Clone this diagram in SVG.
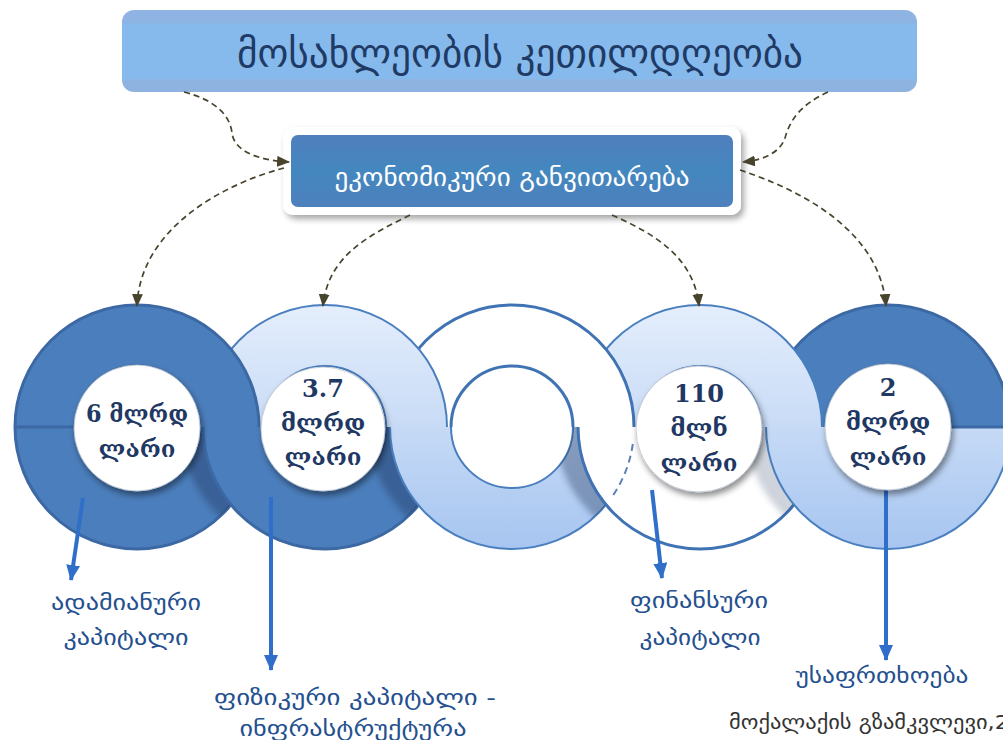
<svg xmlns="http://www.w3.org/2000/svg" width="1003" height="740" viewBox="0 0 1003 740">
<defs>
<style>
.ttl{font-family:"DejaVu Sans",sans-serif;font-size:40px;fill:#1f3a64;text-anchor:middle}
.eco{font-family:"DejaVu Sans",sans-serif;font-size:26px;fill:#fff;text-anchor:middle}
.num{font-family:"DejaVu Serif","DejaVu Sans",serif;font-weight:bold;font-size:24px;fill:#1f3864;text-anchor:middle}
.lbl{font-family:"DejaVu Sans",sans-serif;font-size:22px;fill:#24508f;text-anchor:middle}
.src{font-family:"DejaVu Sans",sans-serif;font-size:20px;fill:#333}
.dash{fill:none;stroke:#47432c;stroke-width:1.7;stroke-dasharray:6 4;marker-end:url(#ah)}
.blue{fill:none;stroke:#2f6fca;stroke-width:4;marker-end:url(#bh)}
.dk{fill:#4b7ebc}
.dks{fill:none;stroke:#3c68a3;stroke-width:3}
.ltT{fill:url(#gT)}
.ltB{fill:url(#gB)}
.lts{fill:none;stroke:#4a7fbf;stroke-width:2}
.wh{fill:#fff}
.whs{fill:none;stroke:#3f73b4;stroke-width:3}
.shd{fill:#22385e;filter:url(#blur)}
.tc{fill:#fff;stroke:#b9c2cf;stroke-width:0.8;filter:url(#shC)}
</style>
<linearGradient id="gT" x1="0" y1="0" x2="0" y2="1"><stop offset="0" stop-color="#e4eefc"/><stop offset="1" stop-color="#c8dbf6"/></linearGradient>
<linearGradient id="gB" x1="0" y1="0" x2="0" y2="1"><stop offset="0" stop-color="#c6daf6"/><stop offset="1" stop-color="#a6c5f0"/></linearGradient>
<linearGradient id="gBan" x1="0" y1="0" x2="0" y2="1"><stop offset="0" stop-color="#8fb4e3"/><stop offset="0.16" stop-color="#8fb4e3"/><stop offset="0.17" stop-color="#86baed"/><stop offset="0.84" stop-color="#86baed"/><stop offset="0.85" stop-color="#8fb3e1"/><stop offset="1" stop-color="#8fb3e1"/></linearGradient>
<linearGradient id="gEco" x1="0" y1="0" x2="0" y2="1"><stop offset="0" stop-color="#4f7fbd"/><stop offset="0.5" stop-color="#4487bf"/><stop offset="1" stop-color="#4d80bd"/></linearGradient>
<filter id="blur" x="-10%" y="-10%" width="120%" height="120%"><feGaussianBlur stdDeviation="3"/></filter>
<filter id="shC" x="-30%" y="-30%" width="160%" height="160%"><feDropShadow dx="2" dy="4" stdDeviation="3" flood-color="#000" flood-opacity="0.45"/></filter>
<filter id="shBox" x="-10%" y="-20%" width="120%" height="150%"><feDropShadow dx="3" dy="4" stdDeviation="3" flood-color="#000" flood-opacity="0.35"/></filter>
<clipPath id="cb1"><path d="M259,427 A122,122 0 0 1 15,427 L76,427 A61,61 0 0 0 198,427 Z"/></clipPath>
<clipPath id="cb2"><path d="M447,427 A122,122 0 0 1 203,427 L264,427 A61,61 0 0 0 386,427 Z"/></clipPath>
<clipPath id="cb3"><path d="M634,427 A122,122 0 0 1 390,427 L451,427 A61,61 0 0 0 573,427 Z"/></clipPath>
<clipPath id="cb4"><path d="M822,427 A122,122 0 0 1 578,427 L639,427 A61,61 0 0 0 761,427 Z"/></clipPath>
<marker id="ah" viewBox="0 0 12 10" refX="11" refY="5" markerWidth="13" markerHeight="11" markerUnits="userSpaceOnUse" orient="auto"><path d="M0,0 L12,5 L0,10 Z" fill="#47432c"/></marker>
<marker id="bh" viewBox="0 0 16 14" refX="15" refY="7" markerWidth="16" markerHeight="14" markerUnits="userSpaceOnUse" orient="auto"><path d="M0,0 L16,7 L0,14 Z" fill="#2f6fca"/></marker>
</defs>
<rect width="1003" height="740" fill="#fff"/>

<g id="title">
<rect x="122" y="10" width="795" height="82" rx="12" fill="url(#gBan)"/>
<text class="ttl" x="520" y="67" textLength="566" lengthAdjust="spacingAndGlyphs">მოსახლეობის კეთილდღეობა</text>
</g>

<g id="economy">
<rect x="283" y="127" width="458" height="88" rx="10" fill="#fff" filter="url(#shBox)"/>
<rect x="291" y="135" width="442" height="72" rx="7" fill="url(#gEco)"/>
<text class="eco" x="512" y="186" textLength="355" lengthAdjust="spacingAndGlyphs">ეკონომიკური განვითარება</text>
</g>

<g id="rings">
<!-- top halves, right to left -->
<path class="dk" d="M766,427 A122,122 0 0 1 1010,427 L949,427 A61,61 0 0 0 827,427 Z"/>
<path class="dks" d="M766,427 A122,122 0 0 1 1010,427 M949,427 A61,61 0 0 0 827,427"/>
<path class="ltT" d="M578,427 A122,122 0 0 1 822,427 L761,427 A61,61 0 0 0 639,427 Z"/>
<path class="lts" d="M578,427 A122,122 0 0 1 822,427 M761,427 A61,61 0 0 0 639,427"/>
<path class="wh" d="M390,427 A122,122 0 0 1 634,427 L573,427 A61,61 0 0 0 451,427 Z"/>
<path class="whs" d="M390,427 A122,122 0 0 1 634,427 M573,427 A61,61 0 0 0 451,427"/>
<path class="ltT" d="M203,427 A122,122 0 0 1 447,427 L386,427 A61,61 0 0 0 264,427 Z"/>
<path class="lts" d="M203,427 A122,122 0 0 1 447,427 M386,427 A61,61 0 0 0 264,427"/>
<path class="dk" d="M15,427 A122,122 0 0 1 259,427 L198,427 A61,61 0 0 0 76,427 Z"/>
<path class="dks" d="M15,427 A122,122 0 0 1 259,427 M198,427 A61,61 0 0 0 76,427"/>
<!-- bottom halves, left to right, each casting a shadow on the previous one -->
<path class="dk" d="M259,427 A122,122 0 0 1 15,427 L76,427 A61,61 0 0 0 198,427 Z"/>
<path class="dks" d="M259,427 A122,122 0 0 1 15,427 M76,427 A61,61 0 0 0 198,427"/>
<g clip-path="url(#cb1)"><circle class="shd" cx="303" cy="427" r="122" opacity="0.4"/></g>
<path class="dk" d="M447,427 A122,122 0 0 1 203,427 L264,427 A61,61 0 0 0 386,427 Z"/>
<path class="dks" d="M447,427 A122,122 0 0 1 203,427 M264,427 A61,61 0 0 0 386,427"/>
<g clip-path="url(#cb2)"><circle class="shd" cx="490" cy="427" r="122" opacity="0.4"/></g>
<path class="ltB" d="M634,427 A122,122 0 0 1 390,427 L451,427 A61,61 0 0 0 573,427 Z"/>
<path class="lts" d="M634,427 A122,122 0 0 1 390,427 M451,427 A61,61 0 0 0 573,427"/>
<g clip-path="url(#cb3)"><circle class="shd" cx="677" cy="427" r="122" opacity="0.38"/></g>
<path class="wh" d="M822,427 A122,122 0 0 1 578,427 L639,427 A61,61 0 0 0 761,427 Z"/>
<path class="whs" d="M822,427 A122,122 0 0 1 578,427 M639,427 A61,61 0 0 0 761,427"/>
<path d="M632.8,444 A122,122 0 0 1 610.7,498.7" fill="none" stroke="#5b80b5" stroke-width="2" stroke-dasharray="7 5"/>
<g clip-path="url(#cb4)"><circle class="shd" cx="868" cy="427" r="122" opacity="0.22"/></g>
<path class="ltB" d="M1010,427 A122,122 0 0 1 766,427 L827,427 A61,61 0 0 0 949,427 Z"/>
<path class="lts" d="M1010,427 A122,122 0 0 1 766,427 M827,427 A61,61 0 0 0 949,427"/>
<path class="dks" d="M15,427 L76,427 M949,427 L1003,427"/>
</g>

<g id="connectors">
<path class="dash" d="M184,92 C215,100 230,115 232,133 C234,150 255,160 289,162"/>
<path class="dash" d="M828,92 C800,105 790,120 785,138 C780,152 765,160 743,162"/>
<path class="dash" d="M284,168 C220,185 140,230 137,306"/>
<path class="dash" d="M410,215 C370,235 328,255 323,306"/>
<path class="dash" d="M612,215 C650,232 694,255 699,306"/>
<path class="dash" d="M740,170 C800,190 880,230 886,306"/>
<path class="blue" d="M83,498 L71,580"/>
<path class="blue" d="M271,497 L271,670"/>
<path class="blue" d="M652,490 L662,578"/>
<path class="blue" d="M886,488 L886,660"/>
</g>

<g id="node-human">
<circle class="tc" cx="137" cy="428" r="63"/>
<text class="num" x="137" y="422" textLength="102" lengthAdjust="spacingAndGlyphs">6 მლრდ</text>
<text class="num" x="137" y="457">ლარი</text>
</g>
<g id="node-physical">
<circle class="tc" cx="323" cy="429" r="62"/>
<text class="num" x="323" y="397">3.7</text>
<text class="num" x="323" y="431">მლრდ</text>
<text class="num" x="323" y="465">ლარი</text>
</g>
<g id="node-financial">
<circle class="tc" cx="699" cy="429" r="63"/>
<text class="num" x="699" y="402">110</text>
<text class="num" x="699" y="436">მლნ</text>
<text class="num" x="699" y="471">ლარი</text>
</g>
<g id="node-security">
<circle class="tc" cx="888" cy="427" r="63"/>
<text class="num" x="888" y="396">2</text>
<text class="num" x="888" y="430">მლრდ</text>
<text class="num" x="888" y="465">ლარი</text>
</g>

<g id="labels">
<text class="lbl" x="126" y="610" textLength="150" lengthAdjust="spacingAndGlyphs">ადამიანური</text>
<text class="lbl" x="126" y="645" textLength="125" lengthAdjust="spacingAndGlyphs">კაპიტალი</text>
<text class="lbl" x="355" y="705" textLength="282" lengthAdjust="spacingAndGlyphs">ფიზიკური კაპიტალი -</text>
<text class="lbl" x="353" y="736" textLength="227" lengthAdjust="spacingAndGlyphs">ინფრასტრუქტურა</text>
<text class="lbl" x="699" y="608" textLength="138" lengthAdjust="spacingAndGlyphs">ფინანსური</text>
<text class="lbl" x="700" y="645" textLength="121" lengthAdjust="spacingAndGlyphs">კაპიტალი</text>
<text class="lbl" x="882" y="683" textLength="173" lengthAdjust="spacingAndGlyphs">უსაფრთხოება</text>
<text class="src" x="729" y="729" textLength="280" lengthAdjust="spacingAndGlyphs">მოქალაქის გზამკვლევი,2</text>
</g>
</svg>
